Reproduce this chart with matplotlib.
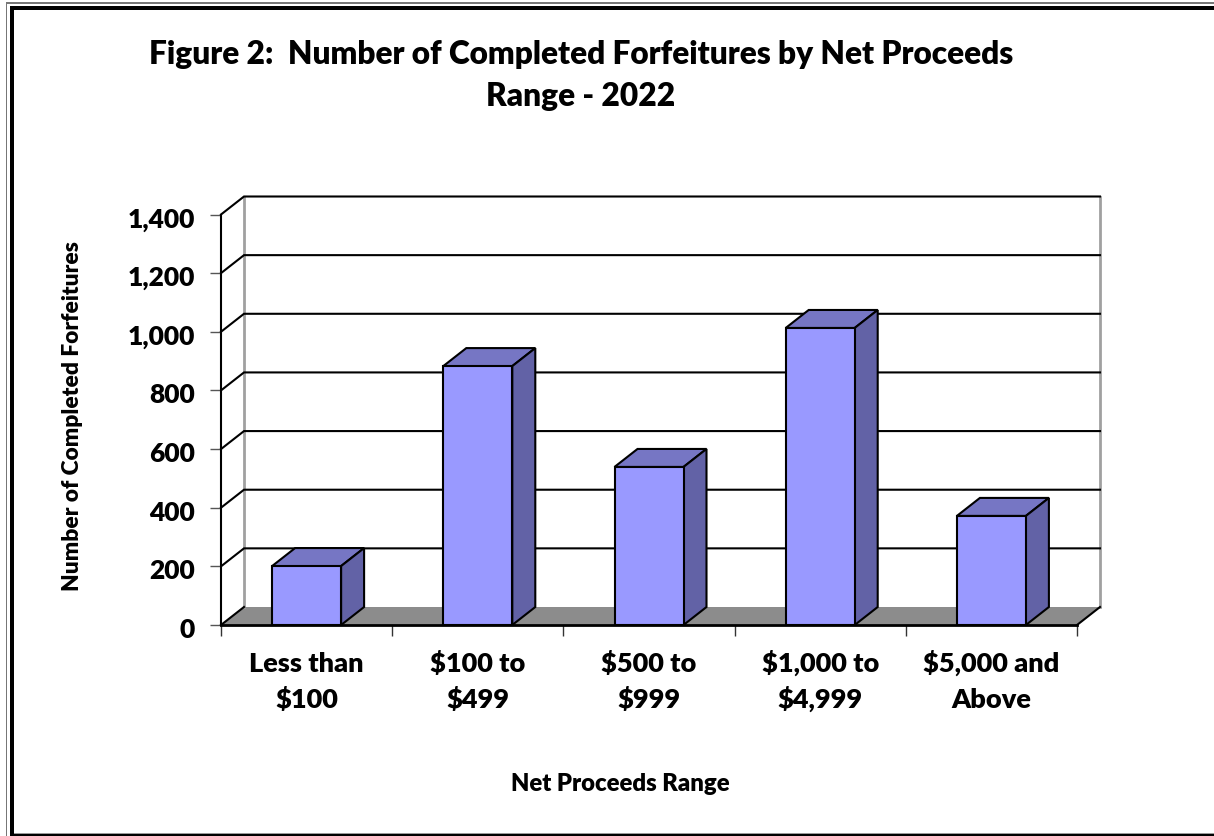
import matplotlib
matplotlib.use('Agg')
import matplotlib.pyplot as plt
from matplotlib.patches import Polygon, Rectangle
from matplotlib.transforms import ScaledTranslation

categories = ['Less than\n$100', '$100 to\n$499', '$500 to\n$999', '$1,000 to\n$4,999', '$5,000 and\nAbove']
counts = [201, 883, 539, 1013, 372]
y_ticks = [0, 200, 400, 600, 800, 1000, 1200, 1400]

W, H = 1214, 837
WEIGHT = 'heavy'
plt.rcParams['font.family'] = ['Lato', 'DejaVu Sans']

BAR_FRONT = '#9999ff'
BAR_TOP = '#7676c4'
BAR_SIDE = '#6262a6'
FLOOR = '#8c8c8c'
WALL_EDGE = '#a0a0a0'

fig = plt.figure(figsize=(W / 100, H / 100), dpi=100, facecolor='white')

# front plane of the 3d box goes from x=221 to 1077 and y=625 to 214.5
ax = fig.add_axes([221 / W, 1 - 626 / H, (1077 - 221) / W, (625 - 214.5) / H])
ax.set_xlim(0, 5)
ax.set_ylim(0, 1400)
ax.patch.set_visible(False)
for s in ax.spines.values():
    s.set_visible(False)

# depth offset in data units
dx = 23 / 856 * 5
dy = 18 / 410.5 * 1400
bar_w = 69 / 856 * 5
lw = 1.5


def poly(pts, fc, ec='black', z=2, w=lw):
    ax.add_patch(Polygon(pts, closed=True, facecolor=fc, edgecolor=ec, linewidth=w,
                         joinstyle='miter', clip_on=False, zorder=z))


# floor
poly([(0, 0), (5, 0), (5 + dx, dy), (dx, dy)], FLOOR, ec='none', z=1)

# back wall side edges
for x in [dx, 5 + dx]:
    ax.plot([x, x], [dy, 1400 + dy], color=WALL_EDGE, lw=2, clip_on=False, zorder=1.2)

# gridlines on the wall and the left side
for t in y_ticks[1:]:
    ax.plot([0, dx, 5 + dx], [t, t + dy, t + dy], color='black', lw=lw, clip_on=False, zorder=1.5,
            solid_joinstyle='miter')
ax.plot([5, 5 + dx], [0, dy], color='black', lw=lw, clip_on=False, zorder=1.6)
ax.plot([0, dx], [0, dy], color='black', lw=lw, clip_on=False, zorder=1.6)
ax.plot([0, 5], [0, 0], color='black', lw=2, clip_on=False, zorder=1.6)
ax.plot([0, 0], [0, 1400], color='black', lw=lw, clip_on=False, zorder=1.6)

# bars
for i, v in enumerate(counts):
    x0 = i + 0.5 - bar_w / 2
    x1 = x0 + bar_w
    poly([(x0, v), (x1, v), (x1 + dx, v + dy), (x0 + dx, v + dy)], BAR_TOP)
    poly([(x1, 0), (x1 + dx, dy), (x1 + dx, v + dy), (x1, v)], BAR_SIDE)
    poly([(x0, 0), (x1, 0), (x1, v), (x0, v)], BAR_FRONT)

ax.set_yticks(y_ticks)
ax.set_yticklabels([f'{t:,}' for t in y_ticks], fontsize=19, fontweight=WEIGHT)
ax.set_xticks(range(6))
ax.set_xticklabels([])
ax.tick_params(axis='y', length=8, width=1, color='#555555', pad=11)
ax.tick_params(axis='x', length=8, width=1, color='#333333')

# tick labels sit about 2 px under their ticks in the original
nudge = ScaledTranslation(0, -2 / 100, fig.dpi_scale_trans)
for lab in ax.get_yticklabels():
    lab.set_transform(lab.get_transform() + nudge)

# each line placed on its own baseline so the rows stay level
for i, c in enumerate(categories):
    top, bottom = c.split('\n')
    for line, off in [(top, -46), (bottom, -82)]:
        ax.annotate(line, (i + 0.5, 0), xytext=(0, off), textcoords='offset pixels', ha='center', va='baseline',
                    fontsize=19.5, fontweight=WEIGHT, annotation_clip=False)

fig.text(581 / W, 1 - 106 / H, 'Figure 2:  Number of Completed Forfeitures by Net Proceeds\nRange - 2022',
         ha='center', va='baseline', fontsize=22.8, fontweight=WEIGHT, linespacing=1.55)
fig.text(620 / W, 1 - 784 / H, 'Net Proceeds Range', ha='center', va='center', fontsize=17.2, fontweight=WEIGHT)
fig.text(73 / W, 1 - 416 / H, 'Number of Completed Forfeitures', rotation=90, ha='center', va='center',
         fontsize=16.4, fontweight=WEIGHT)


def rect(x0, y0, x1, y1, color):
    # page coordinates in pixels, y measured from the top
    fig.add_artist(Rectangle((x0 / W, 1 - y1 / H), (x1 - x0) / W, (y1 - y0) / H, transform=fig.transFigure,
                             facecolor=color, edgecolor='none'))


# page border, thin gray line then a thick black one
rect(6, 3, 1214, 4.5, '#777777')
rect(6, 3, 7.5, 837, '#777777')
rect(9.5, 6.5, 1214, 10.5, 'black')
rect(9.5, 6.5, 13.5, 837, 'black')
rect(13.5, 834, 1214, 835, '#999999')
rect(13.5, 835, 1214, 837, 'black')

fig.savefig('out.png', dpi=100)
